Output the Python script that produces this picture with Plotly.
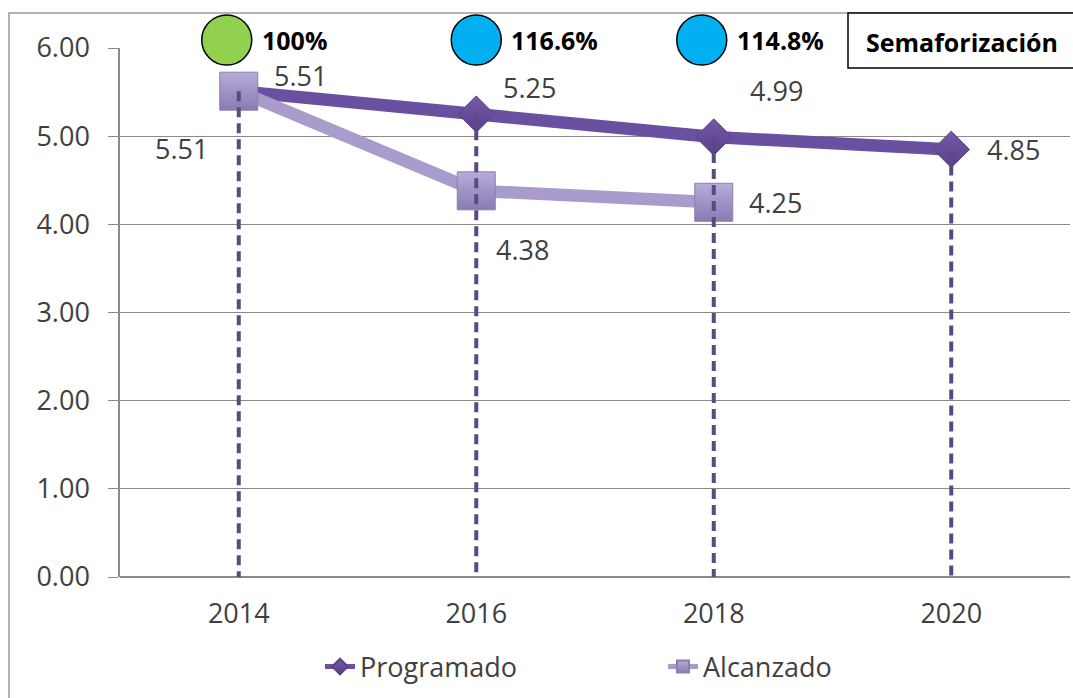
import plotly.graph_objects as go

# Series data
years = ["2014", "2016", "2018", "2020"]
programado = [5.51, 5.25, 4.99, 4.85]
alcanzado = [5.51, 4.38, 4.25, None]

# Traffic-light indicators shown above the first three years
semaforo_pct = ["100%", "116.6%", "114.8%"]
semaforo_color = ["#92d050", "#00b0f0", "#00b0f0"]
semaforo_title = "Semaforización"

y_ticks = [0, 1, 2, 3, 4, 5, 6]

W, H = 1073, 698
ML, MR, MT, MB = 120, 3, 48, 121
PW, PH = W - ML - MR, H - MT - MB


def px_x(p):
    return (p - ML) / PW


def px_y(p):
    return (H - MB - p) / PH


xs = list(range(len(years)))
prog_col = "#6a50a0"
alc_col = "#a99bcc"
drop_col = "#5b4a80"
txt_col = "#404040"
FONT = "Open Sans"
FS = 27

fig = go.Figure()

fig.add_trace(go.Scatter(
    x=xs, y=programado, name="Programado", mode="lines+markers",
    line=dict(color=prog_col, width=12.5),
    marker=dict(symbol="diamond", size=28, color="#7458a8",
                gradient=dict(type="vertical", color="#5a418a"),
                line=dict(color="#5a418a", width=1)),
    showlegend=True, legendrank=1,
))

fig.add_trace(go.Scatter(
    x=xs, y=alcanzado, name="Alcanzado", mode="lines+markers",
    line=dict(color=alc_col, width=12.5),
    marker=dict(symbol="square", size=38, color="#b8abd8",
                gradient=dict(type="vertical", color="#8a7ab3"),
                line=dict(color="#8c7db4", width=1)),
    connectgaps=False, showlegend=True, legendrank=2,
))

# Drop lines from each programmed value down to the axis
dx, dy = [], []
for i, v in enumerate(programado):
    dx += [i, i, None]
    dy += [v, 0, None]
fig.add_trace(go.Scatter(
    x=dx, y=dy, mode="lines", showlegend=False, hoverinfo="skip",
    line=dict(color=drop_col, width=4, dash="10px,6px"),
))

# Data labels
prog_off = [(62, 16), (53, 27), (63, 47), (62, 0)]
alc_off = [(-57, -57), (46, -59), (62, 0), (0, 0)]
for i, v in enumerate(programado):
    fig.add_annotation(x=i, y=v, xref="x", yref="y", text=f"{v:.2f}",
                       showarrow=False, xshift=prog_off[i][0], yshift=prog_off[i][1],
                       font=dict(family=FONT, size=FS, color=txt_col))
for i, v in enumerate(alcanzado):
    if v is None:
        continue
    fig.add_annotation(x=i, y=v, xref="x", yref="y", text=f"{v:.2f}",
                       showarrow=False, xshift=alc_off[i][0], yshift=alc_off[i][1],
                       font=dict(family=FONT, size=FS, color=txt_col))

# Indicator circles and percentages
circ_y = px_y(40)
circ_dx = [-12, 0, -12]
for i, (pct, col) in enumerate(zip(semaforo_pct, semaforo_color)):
    fig.add_shape(type="circle", xref="x", yref="paper",
                  xsizemode="pixel", ysizemode="pixel",
                  xanchor=i, yanchor=circ_y,
                  x0=circ_dx[i] - 25, x1=circ_dx[i] + 25, y0=-25, y1=25,
                  fillcolor=col, line=dict(color="black", width=1.5), layer="above")
    fig.add_annotation(x=i, y=circ_y, xref="x", yref="paper", text=f"<b>{pct}</b>",
                       showarrow=False, xanchor="left", yanchor="middle",
                       xshift=circ_dx[i] + 33,
                       font=dict(family=FONT, size=25, color="black"))

# Outer frame
fig.add_shape(type="rect", xref="paper", yref="paper",
              x0=px_x(9), x1=px_x(1090), y0=px_y(13), y1=px_y(720),
              line=dict(color="#9a9a9a", width=1.5), fillcolor="rgba(0,0,0,0)", layer="below")

# Title box
fig.add_shape(type="rect", xref="paper", yref="paper",
              x0=px_x(848), x1=px_x(1090), y0=px_y(13), y1=px_y(68),
              line=dict(color="black", width=1.5), fillcolor="white", layer="above")
fig.add_annotation(x=px_x(962), y=px_y(42), xref="paper", yref="paper",
                   text=f"<b>{semaforo_title}</b>", showarrow=False,
                   xanchor="center", yanchor="middle",
                   font=dict(family=FONT, size=25, color="black"))

fig.update_layout(
    width=W, height=H,
    margin=dict(l=ML, r=MR, t=MT, b=MB),
    paper_bgcolor="white", plot_bgcolor="white",
    font=dict(family=FONT, color=txt_col),
    xaxis=dict(range=[-0.5, len(years) - 0.5], tickvals=xs, ticktext=years,
               showgrid=False, zeroline=False, showline=False,
               ticks="", tickfont=dict(size=FS, color=txt_col),
               ticklabelstandoff=18, fixedrange=True),
    yaxis=dict(range=[0, 6], tickvals=y_ticks,
               ticktext=[f"{t:.2f}" for t in y_ticks],
               showgrid=True, gridcolor="#8a8a8a", gridwidth=1,
               zeroline=True, zerolinecolor="#8a8a8a", zerolinewidth=1.5,
               showline=True, linecolor="#8a8a8a", linewidth=1.5,
               ticks="outside", ticklen=10, tickcolor="#8a8a8a",
               tickfont=dict(size=FS, color=txt_col),
               ticklabelstandoff=13, fixedrange=True),
    legend=dict(orientation="h", x=px_x(320), y=px_y(667),
                xanchor="left", yanchor="middle",
                font=dict(family=FONT, size=FS, color=txt_col),
                itemsizing="constant", entrywidth=298, bgcolor="rgba(0,0,0,0)"),
    showlegend=True,
)

fig.write_html("out.html")
